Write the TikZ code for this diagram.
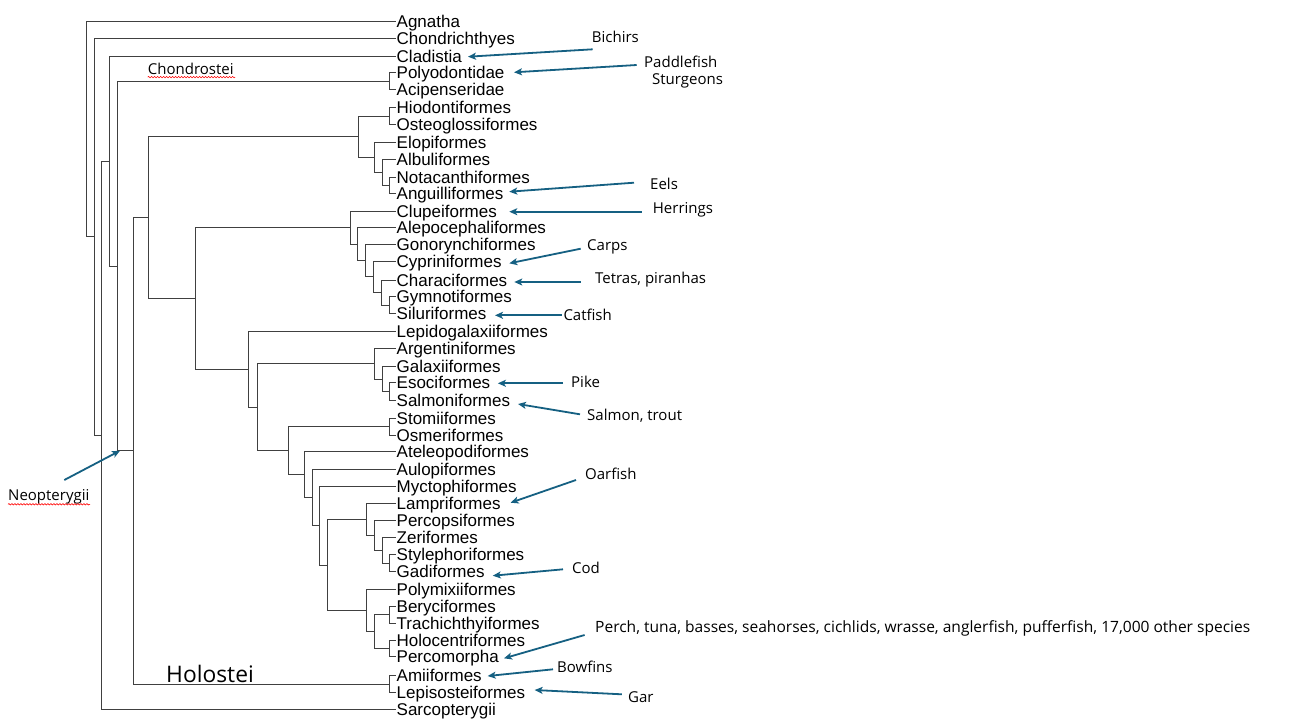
\documentclass[tikz,border=0pt]{standalone}
\usepackage{fontspec}
\setmainfont{Liberation Sans}
\newfontfamily\annfont{Open Sans}
\usetikzlibrary{arrows.meta,decorations.pathmorphing}
\definecolor{arrblue}{HTML}{156082}
\definecolor{treegray}{HTML}{404040}
\newcommand\mkclade[3]{\draw[tree] (#1) |- (#2); \draw[tree] (#1) |- (#3);}
\begin{document}
\begin{tikzpicture}[x=1pt,y=-1pt,
 tree/.style={draw=treegray, line width=1pt},
 leaf/.style={anchor=west, inner xsep=0.5pt, inner ysep=0pt, text height=13pt, text depth=1pt, font=\fontsize{17}{17}\selectfont},
 ann/.style={anchor=base west, inner sep=0pt, font=\annfont\fontsize{15}{15}\selectfont},
 arr/.style={draw=arrblue, line width=1.8pt, -{Stealth[length=8pt,width=7pt,inset=2pt]}},
 squiggle/.style={draw=red, line width=0.6pt, decorate, decoration={snake, segment length=3pt, amplitude=0.7pt}}]
\useasboundingbox[fill=white] (0,0) rectangle (1297,726);

% leaves
\node[leaf] (Ag) at (396,21.3) {Agnatha};
\node[leaf] (Ch) at (396,38.5) {Chondrichthyes};
\node[leaf] (Cl) at (396,56.3) {Cladistia};
\node[leaf] (Po) at (396,72.7) {Polyodontidae};
\node[leaf] (Ac) at (396,89.7) {Acipenseridae};
\node[leaf] (Hi) at (396,107.7) {Hiodontiformes};
\node[leaf] (Os) at (396,124.7) {Osteoglossiformes};
\node[leaf] (El) at (396,142) {Elopiformes};
\node[leaf] (Al) at (396,159.3) {Albuliformes};
\node[leaf] (No) at (396,177) {Notacanthiformes};
\node[leaf] (An) at (396,193) {Anguilliformes};
\node[leaf] (Cu) at (396,211) {Clupeiformes};
\node[leaf] (Ae) at (396,227.7) {Alepocephaliformes};
\node[leaf] (Go) at (396,244.3) {Gonorynchiformes};
\node[leaf] (Cy) at (396,261) {Cypriniformes};
\node[leaf] (Cr) at (396,280) {Characiformes};
\node[leaf] (Gy) at (396,296.7) {Gymnotiformes};
\node[leaf] (Si) at (396,313.5) {Siluriformes};
\node[leaf] (Le) at (396,331) {Lepidogalaxiiformes};
\node[leaf] (Ar) at (396,348.3) {Argentiniformes};
\node[leaf] (Ga) at (396,366.7) {Galaxiiformes};
\node[leaf] (Es) at (396,382.7) {Esociformes};
\node[leaf] (Sa) at (396,400) {Salmoniformes};
\node[leaf] (St) at (396,418.3) {Stomiiformes};
\node[leaf] (Om) at (396,435) {Osmeriformes};
\node[leaf] (At) at (396,451.7) {Ateleopodiformes};
\node[leaf] (Au) at (396,469) {Aulopiformes};
\node[leaf] (My) at (396,486.3) {Myctophiformes};
\node[leaf] (La) at (396,503.7) {Lampriformes};
\node[leaf] (Pe) at (396,520) {Percopsiformes};
\node[leaf] (Ze) at (396,537.7) {Zeriformes};
\node[leaf] (Sy) at (396,554.3) {Stylephoriformes};
\node[leaf] (Gd) at (396,571.7) {Gadiformes};
\node[leaf] (Pm) at (396,589.3) {Polymixiiformes};
\node[leaf] (Be) at (396,606.7) {Beryciformes};
\node[leaf] (Tr) at (396,623) {Trachichthyiformes};
\node[leaf] (Ho) at (396,640.7) {Holocentriformes};
\node[leaf] (Pc) at (396,656.7) {Percomorpha};
\node[leaf] (Am) at (396,675.7) {Amiiformes};
\node[leaf] (Lp) at (396,692.3) {Lepisosteiformes};
\node[leaf] (Sr) at (396,709.3) {Sarcopterygii};

% internal nodes
\coordinate (nPA) at (389,81.2);
\coordinate (nHO) at (389,116.2);
\coordinate (nNA) at (389,185);
\coordinate (nAlb) at (382,172.2);
\coordinate (nElo) at (374,157.1);
\coordinate (nOE) at (358,136.6);
\coordinate (nGS) at (389,305.1);
\coordinate (nChar) at (381,292.5);
\coordinate (nCyp) at (373,276.8);
\coordinate (nOst) at (365,260.5);
\coordinate (nAle) at (357,244.1);
\coordinate (nOto) at (350,227.6);
\coordinate (nES) at (389,391.3);
\coordinate (nGal) at (382,379);
\coordinate (nPro) at (374,363.7);
\coordinate (nSO) at (389,426.7);
\coordinate (nSG) at (389,563);
\coordinate (nZe) at (382,550.3);
\coordinate (nPer) at (374,535.2);
\coordinate (nLam) at (366,519.4);
\coordinate (nBT) at (389,614.8);
\coordinate (nHP) at (389,648.7);
\coordinate (nBer) at (374,631.8);
\coordinate (nAca) at (366,610.5);
\coordinate (nAcm) at (327,565);
\coordinate (nCte) at (319,525.6);
\coordinate (nEur) at (312,497.3);
\coordinate (nAte) at (304,474.5);
\coordinate (nNeo) at (288,450.6);
\coordinate (nEut) at (257,407.2);
\coordinate (nEum) at (248,369.1);
\coordinate (nClu) at (195,298.4);
\coordinate (nTel) at (148,217.5);
\coordinate (nHol) at (389,684);
\coordinate (nNpt) at (133,450.8);
\coordinate (nAct) at (117,266);
\coordinate (nAcg) at (109,161.2);
\coordinate (nOsi) at (101,435.3);
\coordinate (nGna) at (94,236.9);
\coordinate (nRoot) at (86,129.1);

\mkclade{nPA}{Po.west}{Ac.west}
\mkclade{nHO}{Hi.west}{Os.west}
\mkclade{nNA}{No.west}{An.west}
\mkclade{nAlb}{Al.west}{nNA}
\mkclade{nElo}{El.west}{nAlb}
\mkclade{nOE}{nHO}{nElo}
\mkclade{nGS}{Gy.west}{Si.west}
\mkclade{nChar}{Cr.west}{nGS}
\mkclade{nCyp}{Cy.west}{nChar}
\mkclade{nOst}{Go.west}{nCyp}
\mkclade{nAle}{Ae.west}{nOst}
\mkclade{nOto}{Cu.west}{nAle}
\mkclade{nES}{Es.west}{Sa.west}
\mkclade{nGal}{Ga.west}{nES}
\mkclade{nPro}{Ar.west}{nGal}
\mkclade{nSO}{St.west}{Om.west}
\mkclade{nSG}{Sy.west}{Gd.west}
\mkclade{nZe}{Ze.west}{nSG}
\mkclade{nPer}{Pe.west}{nZe}
\mkclade{nLam}{La.west}{nPer}
\mkclade{nBT}{Be.west}{Tr.west}
\mkclade{nHP}{Ho.west}{Pc.west}
\mkclade{nBer}{nBT}{nHP}
\mkclade{nAca}{Pm.west}{nBer}
\mkclade{nAcm}{nLam}{nAca}
\mkclade{nCte}{My.west}{nAcm}
\mkclade{nEur}{Au.west}{nCte}
\mkclade{nAte}{At.west}{nEur}
\mkclade{nNeo}{nSO}{nAte}
\mkclade{nEut}{nPro}{nNeo}
\mkclade{nEum}{Le.west}{nEut}
\mkclade{nClu}{nOto}{nEum}
\mkclade{nTel}{nOE}{nClu}
\mkclade{nHol}{Am.west}{Lp.west}
\mkclade{nNpt}{nTel}{nHol}
\mkclade{nAct}{nPA}{nNpt}
\mkclade{nAcg}{Cl.west}{nAct}
\mkclade{nOsi}{nAcg}{Sr.west}
\mkclade{nGna}{Ch.west}{nOsi}
\mkclade{nRoot}{Ag.west}{nGna}

% group labels
\node[ann] (Chondrostei) at (147.7,74.5) {Chondrostei};
\node[ann, font=\annfont\fontsize{22.8}{22.8}\selectfont] (Holostei) at (166,682.5) {Holostei};
\node[ann] (Neopterygii) at (8,500.5) {Neopterygii};
\draw[squiggle] (Chondrostei.base west) ++(0,2.6) coordinate (sqC1) -- ++(87.5,0);
\draw[squiggle] (Neopterygii.base west) ++(0,3.8) coordinate (sqN1) -- ++(82,0);

% annotations
\node[ann] (Bichirs) at (591.7,42) {Bichirs};
\node[ann] (Paddlefish) at (644,67) {Paddlefish};
\node[ann] (Sturgeons) at (652,84) {Sturgeons};
\node[ann] (Eels) at (650,189) {Eels};
\node[ann] (Herrings) at (652.7,213) {Herrings};
\node[ann] (Carps) at (587,250) {Carps};
\node[ann] (Tetras) at (595,283) {Tetras, piranhas};
\node[ann] (Catfish) at (563.3,320.5) {Catfish};
\node[ann] (Pike) at (571,387.3) {Pike};
\node[ann] (Salmon) at (587,420.5) {Salmon, trout};
\node[ann] (Oarfish) at (585,479.3) {Oarfish};
\node[ann] (Cod) at (572,573) {Cod};
\node[ann, font=\annfont\fontsize{15.55}{15.55}\selectfont] (Perch) at (595,632.5) {Perch, tuna, basses, seahorses, cichlids, wrasse, anglerfish, pufferfish, 17,000 other species};
\node[ann] (Bowfins) at (557,672) {Bowfins};
\node[ann] (Gar) at (628,702) {Gar};

% arrow ends
\coordinate (aBi) at (592.7,49.3);   \coordinate (tBi) at (468,56.7);
\coordinate (aPa) at (636.7,65);     \coordinate (tPa) at (514,72.3);
\coordinate (aEe) at (634,182.7);    \coordinate (tEe) at (509.3,191.7);
\coordinate (aHe) at (641.7,211.7);  \coordinate (tHe) at (509.3,211.7);
\coordinate (aCa) at (580.7,248.7);  \coordinate (tCa) at (509.3,263.3);
\coordinate (aTe) at (580.7,282);    \coordinate (tTe) at (514.3,282);
\coordinate (aCf) at (561.7,315.3);  \coordinate (tCf) at (495,315.3);
\coordinate (aPi) at (563,383.3);    \coordinate (tPi) at (497.9,383.3);
\coordinate (aSa) at (580,414.3);    \coordinate (tSa) at (518,404);
\coordinate (aOa) at (576,480);      \coordinate (tOa) at (510.6,502.7);
\coordinate (aCo) at (563,569.3);    \coordinate (tCo) at (492.8,575.7);
\coordinate (aPe) at (584.6,635);    \coordinate (tPe) at (504,658.3);
\coordinate (aBo) at (553,669.3);    \coordinate (tBo) at (487.7,676);
\coordinate (aGa) at (621.8,694.3);  \coordinate (tGa) at (534.6,690);
\coordinate (aNe) at (64.3,480);     \coordinate (tNe) at (120,450.7);

\draw[arr] (aBi) -- (tBi);
\draw[arr] (aPa) -- (tPa);
\draw[arr] (aEe) -- (tEe);
\draw[arr] (aHe) -- (tHe);
\draw[arr] (aCa) -- (tCa);
\draw[arr] (aTe) -- (tTe);
\draw[arr] (aCf) -- (tCf);
\draw[arr] (aPi) -- (tPi);
\draw[arr] (aSa) -- (tSa);
\draw[arr] (aOa) -- (tOa);
\draw[arr] (aCo) -- (tCo);
\draw[arr] (aPe) -- (tPe);
\draw[arr] (aBo) -- (tBo);
\draw[arr] (aGa) -- (tGa);
\draw[arr] (aNe) -- (tNe);
\end{tikzpicture}
\end{document}
